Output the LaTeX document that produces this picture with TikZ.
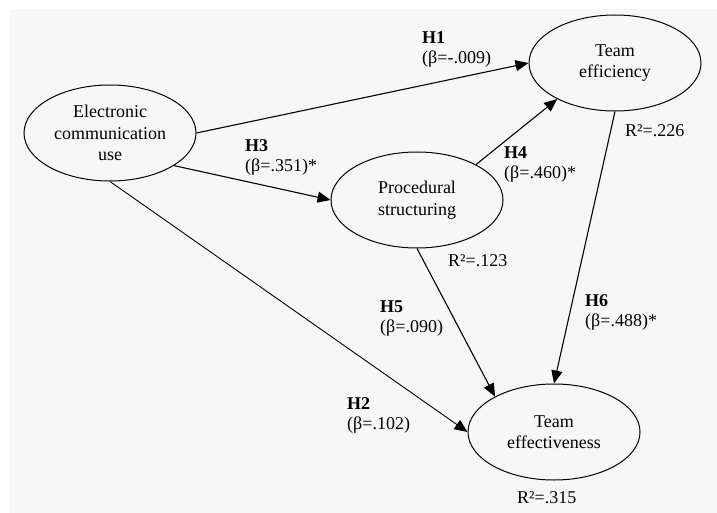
\documentclass[tikz,border=0pt]{standalone}
\usepackage{fontspec}
\setmainfont{Liberation Serif}
\usetikzlibrary{arrows.meta,shapes.geometric}

\begin{document}
\begin{tikzpicture}[x=1pt,y=-1pt,
  construct/.style={draw,ellipse,line width=1pt,minimum width=172pt,minimum height=96pt,
    inner sep=0pt,align=center,font=\fontsize{18}{21.5}\selectfont},
  effect/.style={draw,line width=1.1pt,-{Triangle[length=13pt,width=11pt]}},
  coef/.style={anchor=north west,inner sep=0pt,align=left,font=\fontsize{18}{20}\selectfont}]

\useasboundingbox (0,0) rectangle (717,513);
\fill[black!3] (10,9) rectangle (717,513);

% constructs
\node[construct] (ecu)  at (110,133) {Electronic\\communication\\use};
\node[construct] (eff)  at (615,63)  {Team\\efficiency};
\node[construct] (proc) at (417,200) {Procedural\\structuring};
\node[construct] (effv) at (554,432) {Team\\effectiveness};

% paths
\draw[effect] (ecu.east) -- (eff.west);
\draw[effect] (ecu.-27) -- (proc.west);
\draw[effect] (proc.31) -- (eff.212);
\draw[effect] (proc.south) -- (effv.149);
\draw[effect] (eff.south) -- (effv.north);
\draw[effect,line width=0.9pt] (ecu.south) -- (effv.west);

% coefficients
\node[coef] (h1) at (422,31)  {\textbf{H1}\\(β=-.009)};
\node[coef] (h3) at (245,139) {\textbf{H3}\\(β=.351)*};
\node[coef] (h4) at (504,146) {\textbf{H4}\\(β=.460)*};
\node[coef] (h5) at (380,301) {\textbf{H5}\\(β=.090)};
\node[coef] (h6) at (585,294) {\textbf{H6}\\(β=.488)*};
\node[coef] (h2) at (347,397) {\textbf{H2}\\(β=.102)};
\node[coef] (r-eff)  at (625,124) {R²=.226};
\node[coef] (r-proc) at (448,254) {R²=.123};
\node[coef] (r-effv) at (517,491) {R²=.315};

\end{tikzpicture}
\end{document}
